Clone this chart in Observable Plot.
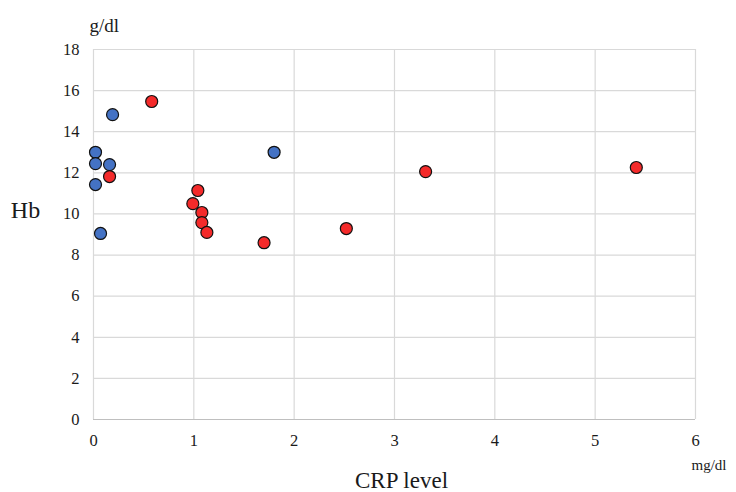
<!DOCTYPE html>
<html>
<head>
<meta charset="utf-8">
<script src="https://cdn.jsdelivr.net/npm/d3@7"></script>
<script src="https://cdn.jsdelivr.net/npm/@observablehq/plot@0.6"></script>
<style>
  html, body { margin: 0; padding: 0; background: #fff; }
  #chart svg { display: block; }
  #chart svg, #chart svg text { font-family: "Liberation Serif", "Times New Roman", serif !important; }
</style>
</head>
<body>
<div id="chart"></div>
<script>
// Data
const crpBlue = [0.02, 0.02, 0.02, 0.07, 0.19, 0.16, 1.80];
const hbBlue  = [13.0, 12.45, 11.43, 9.05, 14.83, 12.4, 13.0];
const crpRed  = [0.58, 0.16, 1.04, 0.99, 1.08, 1.08, 1.13, 1.70, 2.52, 3.31, 5.41];
const hbRed   = [15.47, 11.82, 11.14, 10.5, 10.07, 9.58, 9.1, 8.6, 9.29, 12.06, 12.26];
const xTicks = [0, 1, 2, 3, 4, 5, 6];
const yTicks = [0, 2, 4, 6, 8, 10, 12, 14, 16, 18];

const blue = crpBlue.map((c, i) => ({crp: c, hb: hbBlue[i]}));
const red = crpRed.map((c, i) => ({crp: c, hb: hbRed[i]}));

const font = "Liberation Serif";

const plot = Plot.plot({
  width: 736,
  height: 492,
  marginLeft: 93,
  marginRight: 41,
  marginTop: 49,
  marginBottom: 73,
  style: {fontFamily: font, fontSize: "16px", color: "#1a1a1a", background: "#fff", overflow: "visible"},
  x: {domain: [0, 6], ticks: xTicks, tickSize: 0, tickPadding: 15, label: null, tickFormat: d => String(d)},
  y: {domain: [0, 18], ticks: yTicks, tickSize: 0, tickPadding: 14, label: null, tickFormat: d => String(d)},
  marks: [
    Plot.ruleX(xTicks, {stroke: "#d9d9d9", strokeWidth: 1.2}),
    Plot.ruleY(yTicks, {stroke: "#d9d9d9", strokeWidth: 1.2}),
    Plot.ruleY([0], {stroke: "#bfbfbf", strokeWidth: 1.2}),
    Plot.axisX({ticks: xTicks, tickSize: 0, tickPadding: 15, label: null, fontSize: 16.5, fontFamily: font, tickFormat: d => String(d)}),
    Plot.axisY({ticks: yTicks, tickSize: 0, tickPadding: 14, label: null, fontSize: 16.5, fontFamily: font, tickFormat: d => String(d)}),
    Plot.dot(blue, {x: "crp", y: "hb", r: 6, fill: "#4472c4", stroke: "#111", strokeWidth: 1.2}),
    Plot.dot(red, {x: "crp", y: "hb", r: 6, fill: "#f42a2a", stroke: "#111", strokeWidth: 1.2}),
    Plot.text(["g/dl"], {frameAnchor: "top-left", textAnchor: "start", lineAnchor: "bottom", dx: -4, dy: -18, fontSize: 19, fontFamily: font, fill: "#1a1a1a"}),
    Plot.text(["Hb"], {frameAnchor: "left", textAnchor: "middle", dx: -68, dy: -24, fontSize: 24, fontFamily: font, fill: "#1a1a1a"}),
    Plot.text(["CRP level"], {frameAnchor: "bottom", textAnchor: "middle", lineAnchor: "middle", dx: 7, dy: 61, fontSize: 23, fontFamily: font, fill: "#1a1a1a"}),
    Plot.text(["mg/dl"], {frameAnchor: "bottom-right", textAnchor: "start", lineAnchor: "middle", dx: -4, dy: 46, fontSize: 15, fontFamily: font, fill: "#1a1a1a"})
  ]
});
document.getElementById("chart").appendChild(plot);
</script>
</body>
</html>
